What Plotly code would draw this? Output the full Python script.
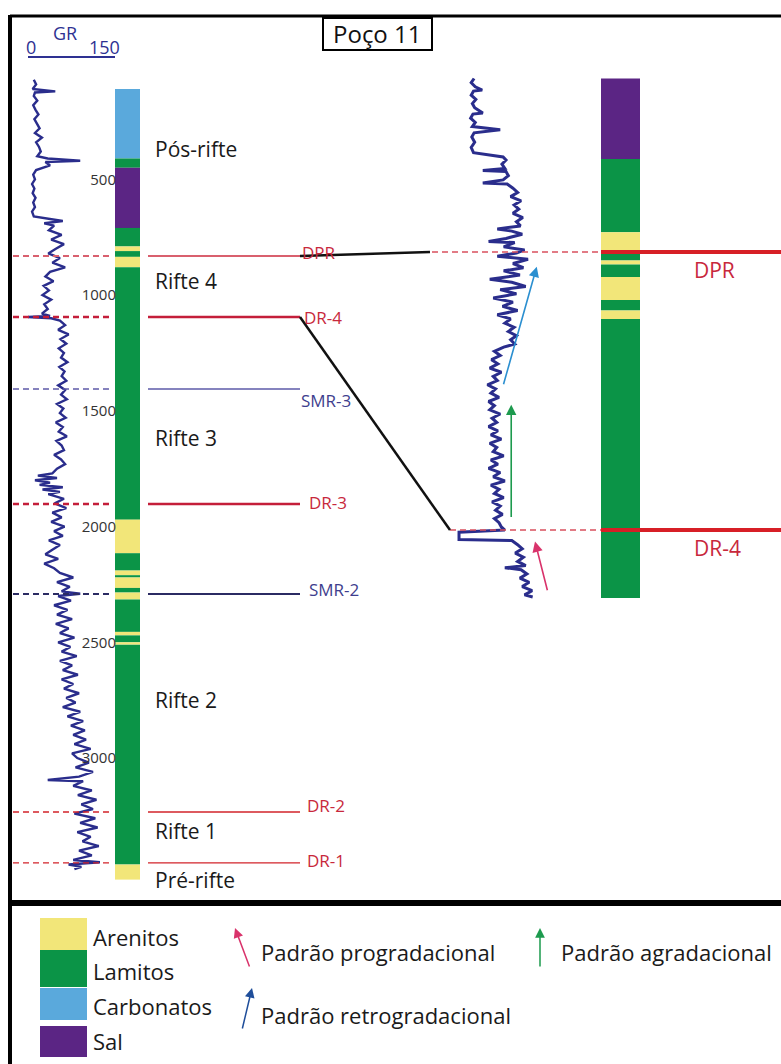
import plotly.graph_objects as go

W, H = 781, 1064
FONT = "Open Sans"

# ---------------- lithology palette ----------------
LITH_COLORS = {
    "Arenitos": "#f2e679",
    "Lamitos": "#0b9447",
    "Carbonatos": "#5aa9dc",
    "Sal": "#5b2584",
}

# ---------------- Poço 11 : full well (depth in m) ----------------
lith_top = [110, 410, 450, 710, 790, 810, 835, 880, 1970, 2115, 2190, 2210, 2220,
            2265, 2285, 2315, 2455, 2470, 2500, 2510, 3460]
lith_base = [410, 450, 710, 790, 810, 835, 880, 1970, 2115, 2190, 2210, 2220, 2265,
             2285, 2315, 2455, 2470, 2500, 2510, 3460, 3525]
lith_type = ["Carbonatos", "Lamitos", "Sal", "Lamitos", "Arenitos", "Lamitos", "Arenitos",
             "Lamitos", "Arenitos", "Lamitos", "Arenitos", "Lamitos", "Arenitos", "Lamitos",
             "Arenitos", "Lamitos", "Arenitos", "Lamitos", "Arenitos", "Lamitos", "Arenitos"]

gr_depth = [70, 90, 110, 120, 125, 140, 160, 180, 200, 220, 240, 260, 280, 300, 320, 340,
            360, 380, 400, 410, 420, 425, 440, 460, 480, 500, 520, 540, 560, 580, 600, 620,
            640, 660, 680, 690, 700, 720, 740, 760, 780, 800, 820, 840, 860, 880, 900, 920,
            940, 960, 980, 1000, 1020, 1040, 1060, 1080, 1090, 1095, 1100, 1110, 1130, 1150,
            1170, 1190, 1210, 1230, 1250, 1270, 1290, 1310, 1330, 1350, 1370, 1390, 1410,
            1430, 1450, 1470, 1490, 1510, 1530, 1550, 1570, 1590, 1610, 1630, 1650, 1670,
            1690, 1710, 1730, 1750, 1770, 1780, 1790, 1800, 1810, 1820, 1830, 1840, 1850,
            1860, 1880, 1900, 1920, 1940, 1960, 1980, 2000, 2020, 2040, 2060, 2080, 2100,
            2120, 2140, 2160, 2180, 2200, 2220, 2240, 2260, 2280, 2290, 2300, 2320, 2340,
            2360, 2380, 2400, 2420, 2440, 2460, 2480, 2500, 2520, 2540, 2560, 2580, 2600,
            2620, 2640, 2660, 2680, 2700, 2720, 2740, 2760, 2780, 2800, 2820, 2840, 2860,
            2880, 2900, 2920, 2940, 2960, 2980, 3000, 3020, 3040, 3060, 3080, 3095, 3100,
            3120, 3140, 3160, 3180, 3200, 3220, 3240, 3260, 3280, 3300, 3320, 3340, 3360,
            3380, 3400, 3420, 3440, 3450, 3460, 3470, 3480]
gr_value = [10, 14, 8, 47, 12, 10, 16, 9, 13, 18, 11, 15, 20, 12, 24, 14,
            19, 22, 16, 34, 90, 30, 38, 14, 9, 12, 7, 11, 8, 13, 9, 12,
            7, 10, 60, 28, 45, 36, 58, 40, 62, 48, 35, 55, 42, 64, 38, 30,
            44, 27, 36, 25, 40, 28, 34, 24, 38, 0, 40, 55, 64, 52,
            70, 56, 66, 53, 62, 57, 68, 54, 63, 58, 66, 52, 64,
            57, 67, 50, 61, 55, 65, 48, 60, 53, 67, 49, 58, 62,
            45, 57, 64, 50, 42, 17, 50, 12, 38, 20, 60, 25, 55,
            35, 62, 46, 66, 42, 58, 40, 63, 45, 60, 36, 55, 42,
            30, 52, 28, 45, 55, 78, 50, 72, 58, 90, 52, 74, 45,
            68, 50, 76, 48, 70, 55, 80, 52, 73, 58, 84, 55, 76,
            60, 86, 58, 78, 62, 88, 66, 82, 60, 90, 68, 95, 74,
            98, 78, 100, 80, 108, 76, 85, 105, 82, 112, 88, 34, 95,
            78, 110, 86, 118, 92, 112, 80, 116, 90, 120, 85, 108, 94,
            122, 88, 110, 78, 124, 70, 92, 80]

depth_ticks = [500, 1000, 1500, 2000, 2500, 3000]

# stratigraphic surfaces of the full well
hz_names = ["DPR", "DR-4", "SMR-3", "DR-3", "SMR-2", "DR-2", "DR-1"]
hz_depth = [831, 1095, 1406, 1902, 2291, 3233, 3453]

# sequences
stage_names = ["Pós-rifte", "Rifte 4", "Rifte 3", "Rifte 2", "Rifte 1", "Pré-rifte"]
stage_depth = [369, 939, 1617, 2749, 3316, 3527]

# ---------------- detail section (Rifte 4) ----------------
det_lith_top = [664, 741, 811, 831, 838, 842, 854, 876, 886, 894]
det_lith_base = [741, 811, 831, 838, 842, 854, 876, 886, 894, 1161]
det_lith_type = ["Sal", "Lamitos", "Arenitos", "Lamitos", "Arenitos", "Lamitos", "Arenitos",
                 "Lamitos", "Arenitos", "Lamitos"]

det_gr_depth = [664, 668, 672, 675, 676, 680, 684, 688, 692, 697, 698, 702, 706, 710, 713,
                714, 716, 720, 725, 730, 735, 739, 742, 746, 750, 752, 753, 757, 761, 764,
                765, 769, 773, 777, 781, 785, 789, 793, 797, 801, 805, 808, 810, 813, 817,
                820, 821, 825, 828, 831, 834, 837, 841, 845, 848, 852, 856, 859, 863, 866,
                870, 874, 878, 882, 886, 890, 894, 898, 902, 906, 910, 914, 918, 921, 925,
                929, 933, 937, 941, 945, 949, 953, 957, 961, 965, 969, 973, 977, 981, 985,
                989, 993, 997, 1001, 1005, 1009, 1013, 1017, 1021, 1025, 1029, 1033, 1037,
                1041, 1045, 1049, 1053, 1057, 1061, 1065, 1069, 1073, 1077, 1081, 1085, 1089,
                1093, 1096, 1098, 1105, 1106, 1110, 1114, 1118, 1122, 1126, 1130, 1132, 1134,
                1138, 1142, 1146, 1150, 1154, 1158, 1160]
det_gr_value = [45, 40, 47, 59, 44, 40, 48, 42, 46, 60, 43, 39, 47, 42, 90,
                75, 45, 41, 46, 40, 44, 95, 100, 93, 98, 60, 100, 104, 95, 60,
                102, 112, 120, 108, 126, 114, 122, 112, 129, 118, 125, 85, 110, 128, 100,
                70, 115, 96, 132, 118, 85, 138, 112, 130, 96, 124, 72, 110, 134, 90,
                118, 78, 112, 94, 120, 85, 108, 98, 114, 104, 118, 108, 115, 96, 80,
                90, 75, 86, 72, 92, 78, 85, 68, 82, 74, 88, 70, 80, 72, 90,
                76, 84, 70, 86, 74, 92, 72, 84, 78, 96, 74, 86, 70,
                90, 78, 98, 74, 88, 80, 96, 76, 90, 82, 94, 80, 88,
                92, 98, 19, 19, 110, 120, 128, 116, 130, 120, 134, 98, 126,
                136, 124, 140, 128, 145, 132, 146]

det_hz_names = ["DPR", "DR-4"]
det_hz_depth = [830, 1096]

# stacking patterns in the detail section: (GR head, depth head, GR tail, depth tail)
pattern_names = ["retrogradacional", "agradacional", "progradacional"]
pattern_head_gr = [153, 109, 150]
pattern_head_depth = [844, 976, 1107]
pattern_tail_gr = [95, 109, 172]
pattern_tail_depth = [958, 1085, 1155]

legend_lith = ["Arenitos", "Lamitos", "Carbonatos", "Sal"]

# ---------------- axis scales ----------------
Y_MAIN = [4321.5, -274.6]   # depth axis of the full well (reversed)
Y_DET = [1606.8, 588.9]     # depth axis of the detail section (reversed)
X_MAIN = [-48.28, 1298.28]  # GR axis of the full well
X_DET = [-772.41, 574.14]   # GR axis of the detail section


def fx(p):
    return p / W


def fy(p):
    return 1 - p / H


def depth_paper(d, rng):
    return (rng[0] - d) / (rng[0] - rng[1])


# ---------------- styling of surfaces ----------------
hz_style = {
    "DPR":   dict(color="#d9606e", width=2.0, label="#c8283c", lx=300, dy=-3),
    "DR-4":  dict(color="#c41e3a", width=2.5, label="#c8283c", lx=302, dy=0),
    "SMR-3": dict(color="#5d5aa8", width=1.5, label="#3e3e8e", lx=299, dy=11),
    "DR-3":  dict(color="#c41e3a", width=2.5, label="#c8283c", lx=307, dy=-1),
    "SMR-2": dict(color="#2b2b63", width=2.0, label="#3e3e8e", lx=307, dy=-4),
    "DR-2":  dict(color="#d2232a", width=1.3, label="#c8283c", lx=305, dy=-7),
    "DR-1":  dict(color="#d2232a", width=1.3, label="#c8283c", lx=305, dy=-2),
}
det_dash_start = {"DPR": 432, "DR-4": 450}

shapes = []
annotations = []


def pline(x0, y0, x1, y1, color, width, dash=None):
    shapes.append(dict(type="line", xref="paper", yref="paper",
                       x0=fx(x0), y0=fy(y0), x1=fx(x1), y1=fy(y1),
                       line=dict(color=color, width=width, dash=dash), layer="above"))


def text(x, y, s, size, color="#1a1a1a", xanchor="left", xref="paper", yref="paper", yshift=0):
    annotations.append(dict(x=x, y=y, xref=xref, yref=yref, text=s, showarrow=False,
                            xanchor=xanchor, yanchor="middle", yshift=yshift,
                            font=dict(family=FONT, size=size, color=color)))


# lithology columns
for t, b, k in zip(lith_top, lith_base, lith_type):
    shapes.append(dict(type="rect", xref="paper", yref="y", x0=fx(115), x1=fx(140),
                       y0=t, y1=b, fillcolor=LITH_COLORS[k], line=dict(width=0), layer="below"))
for t, b, k in zip(det_lith_top, det_lith_base, det_lith_type):
    shapes.append(dict(type="rect", xref="paper", yref="y2", x0=fx(601), x1=fx(640),
                       y0=t, y1=b, fillcolor=LITH_COLORS[k], line=dict(width=0), layer="below"))

# surfaces of the full well
for name, d in zip(hz_names, hz_depth):
    st = hz_style[name]
    shapes.append(dict(type="line", xref="paper", yref="y", x0=fx(13), x1=fx(110), y0=d, y1=d,
                       line=dict(color=st["color"], width=st["width"], dash="6px,4px")))
    shapes.append(dict(type="line", xref="paper", yref="y", x0=fx(148), x1=fx(300), y0=d, y1=d,
                       line=dict(color=st["color"], width=st["width"])))
    text(fx(st["lx"]), d, name, 17, color=st["label"], yref="y", yshift=-st["dy"])

# surfaces of the detail section
for name, d in zip(det_hz_names, det_hz_depth):
    shapes.append(dict(type="line", xref="paper", yref="y2", x0=fx(det_dash_start[name]), x1=fx(601),
                       y0=d, y1=d, line=dict(color="#d9505e", width=1.5, dash="6px,4px")))
    shapes.append(dict(type="line", xref="paper", yref="y2", x0=fx(601), x1=fx(781),
                       y0=d, y1=d, line=dict(color="#d71f26", width=4)))
    text(fx(692), d, name, 21, color="#c8283c", yref="y2", yshift=-18)

# correlation between the full well and the detail section
for name, xe in (("DPR", 430), ("DR-4", 450)):
    d0 = hz_depth[hz_names.index(name)]
    d1 = det_hz_depth[det_hz_names.index(name)]
    shapes.append(dict(type="line", xref="paper", yref="paper",
                       x0=fx(300), y0=depth_paper(d0, Y_MAIN),
                       x1=fx(xe), y1=depth_paper(d1, Y_DET),
                       line=dict(color="#111111", width=2.5)))

# sequence names
for s, d in zip(stage_names, stage_depth):
    text(fx(153), d, s, 21, yref="y")

# stacking pattern arrows on the detail log
pattern_colors = {"retrogradacional": "#2b8fd0", "agradacional": "#1d9a4e",
                  "progradacional": "#d9336b"}
for n, hg, hd, tg, td in zip(pattern_names, pattern_head_gr, pattern_head_depth,
                             pattern_tail_gr, pattern_tail_depth):
    annotations.append(dict(x=hg, y=hd, ax=tg, ay=td, xref="x2", yref="y2", axref="x2",
                            ayref="y2", text="", showarrow=True, arrowhead=2, arrowsize=1.3,
                            arrowwidth=1.6, arrowcolor=pattern_colors[n], standoff=0,
                            startstandoff=0))

# frame and title
pline(10, 16, 781, 16, "#000000", 3)
pline(10, 15, 10, 1064, "#000000", 4)
pline(10, 903, 781, 903, "#000000", 6)
shapes.append(dict(type="rect", xref="paper", yref="paper", x0=fx(323), x1=fx(432),
                   y0=fy(18), y1=fy(50), fillcolor="white",
                   line=dict(color="#000000", width=2), layer="above"))
text(fx(377.5), fy(34), "Poço 11", 24, color="#111111", xanchor="center")

# GR scale
pline(28, 57, 115, 57, "#2e3192", 2)
text(fx(65), fy(33), "GR", 18, color="#2e3192", xanchor="center")
text(fx(31), fy(47), "0", 18, color="#2e3192", xanchor="center")
text(fx(104), fy(47), "150", 18, color="#2e3192", xanchor="center")

# legend
sw_top = [918, 950, 988, 1026]
sw_bot = [950, 987, 1020, 1057]
sw_txt = [937, 971, 1006, 1041]
for k, t, b, ty in zip(legend_lith, sw_top, sw_bot, sw_txt):
    shapes.append(dict(type="rect", xref="paper", yref="paper", x0=fx(40), x1=fx(87),
                       y0=fy(b), y1=fy(t), fillcolor=LITH_COLORS[k], line=dict(width=0)))
    text(fx(91), fy(ty), k, 22)

legend_arrows = [  # head x, head y, tail offset x, tail offset y, colour, label, label x, label y
    (235, 928, 15, 40, "#d9336b", "Padrão progradacional", 259, 952),
    (540, 928, 0, 40, "#1d9a4e", "Padrão agradacional", 559, 952),
    (252, 988, -10, 42, "#1f4e9a", "Padrão retrogradacional", 259, 1015),
]
for hx, hy, ox, oy, c, lab, lx, ly in legend_arrows:
    annotations.append(dict(x=fx(hx), y=fy(hy), xref="paper", yref="paper", ax=ox, ay=oy,
                            axref="pixel", ayref="pixel", text="", showarrow=True, arrowhead=2,
                            arrowsize=1.3, arrowwidth=1.5, arrowcolor=c, standoff=0))
    text(fx(lx), fy(ly), lab, 22)

# ---------------- figure ----------------
fig = go.Figure()
fig.add_trace(go.Scatter(x=gr_value, y=gr_depth, mode="lines", xaxis="x", yaxis="y",
                         line=dict(color="#2a2d8c", width=2.4),
                         hoverinfo="skip", showlegend=False))
fig.add_trace(go.Scatter(x=det_gr_value, y=det_gr_depth, mode="lines", xaxis="x2", yaxis="y2",
                         line=dict(color="#2a2d8c", width=3.0),
                         hoverinfo="skip", showlegend=False))

fig.update_layout(
    template="none",
    width=W, height=H,
    margin=dict(l=0, r=0, t=0, b=0),
    paper_bgcolor="white", plot_bgcolor="white",
    showlegend=False,
    xaxis=dict(domain=[0, 1], range=X_MAIN, visible=False, anchor="y"),
    yaxis=dict(domain=[0, 1], range=Y_MAIN, anchor="free", position=fx(116), side="left",
               showgrid=False, zeroline=False, showline=False, ticks="",
               tickvals=depth_ticks, ticktext=[str(v) for v in depth_ticks],
               tickfont=dict(family=FONT, size=15, color="#333333"), automargin=False),
    xaxis2=dict(range=X_DET, overlaying="x", visible=False, anchor="y2"),
    yaxis2=dict(range=Y_DET, overlaying="y", visible=False, anchor="x2"),
    shapes=shapes,
    annotations=annotations,
)

fig.write_html("out.html")
